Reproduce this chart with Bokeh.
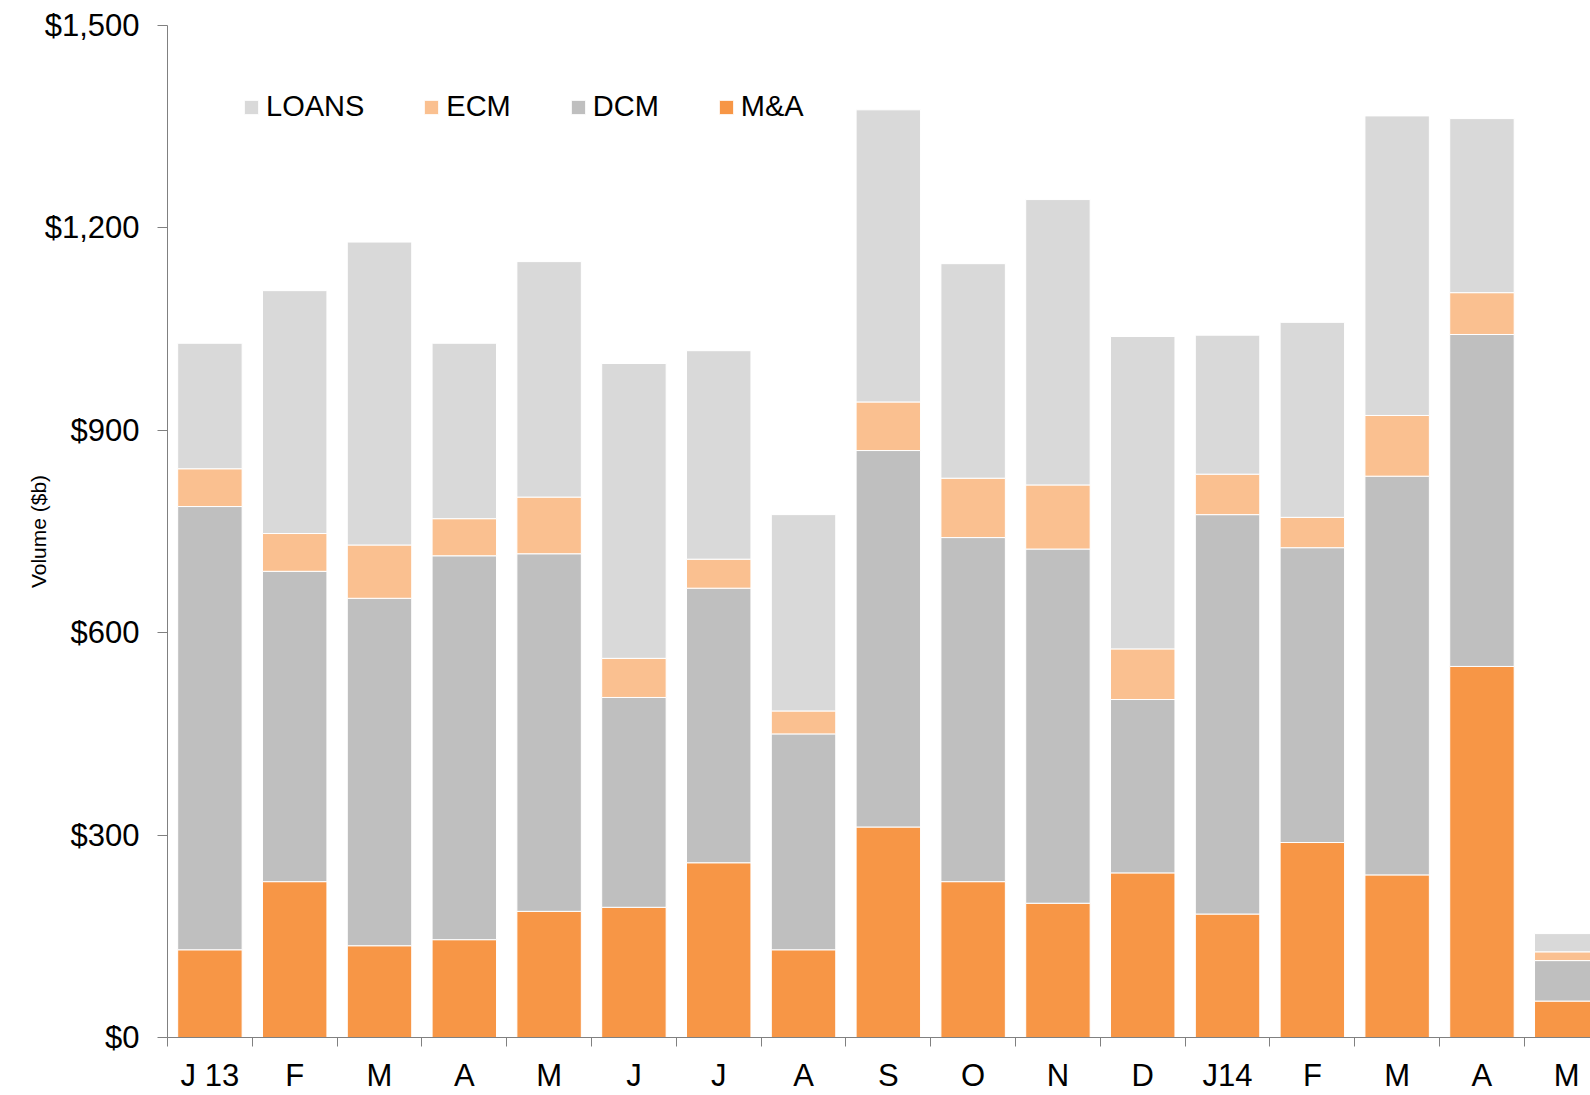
from bokeh.plotting import figure
from bokeh.models import (ColumnDataSource, Range1d, FixedTicker, NumeralTickFormatter,
                          Legend, LegendItem)
from bokeh.embed import file_html
from bokeh.resources import INLINE

months = ["J 13", "F", "M", "A", "M", "J", "J", "A", "S", "O", "N", "D",
          "J14", "F", "M", "A", "M"]
mna = [130, 231, 136, 145, 187, 193, 259, 130, 312, 231, 199, 244, 183, 289, 241, 550, 54]
dcm = [657, 460, 515, 569, 530, 311, 407, 320, 558, 510, 525, 257, 592, 437, 591, 492, 60]
ecm = [56, 56, 79, 55, 84, 58, 43, 34, 72, 88, 95, 75, 60, 45, 90, 62, 13]
loans = [186, 360, 449, 260, 349, 437, 309, 291, 433, 318, 423, 463, 206, 289, 444, 258, 27]
y_ticks = [0, 300, 600, 900, 1200, 1500]

FONT = "Liberation Sans"
n = len(months)
centers = [i + 0.5 for i in range(n)]
bounds = [float(i) for i in range(n + 1)]

src = ColumnDataSource(dict(x=centers, mna=mna, dcm=dcm, ecm=ecm, loans=loans))

p = figure(width=1590, height=1095, output_backend="svg", toolbar_location=None,
           x_range=Range1d(0, 16.78), y_range=Range1d(0, 1500),
           min_border_left=167, min_border_top=25, min_border_right=0,
           min_border_bottom=58)
p.outline_line_color = None
p.xgrid.visible = False
p.ygrid.visible = False
p.background_fill_color = "white"
p.border_fill_color = "white"

colors = ["#F79646", "#BFBFBF", "#FAC090", "#D9D9D9"]
rs = p.vbar_stack(["mna", "dcm", "ecm", "loans"], x="x", width=0.76, source=src,
                  color=colors, line_color="white", line_width=1)

# y axis
ya = p.yaxis[0]
ya.ticker = FixedTicker(ticks=y_ticks)
ya.formatter = NumeralTickFormatter(format="$0,0")
ya.axis_line_color = "#808080"
ya.major_tick_line_color = "#808080"
ya.major_tick_out = 10
ya.major_tick_in = 0
ya.minor_tick_line_color = None
ya.major_label_standoff = 18
ya.major_label_text_font = FONT
ya.major_label_text_font_size = "31px"
ya.major_label_text_color = "black"
ya.axis_label = "Volume ($b)"
ya.axis_label_text_font = FONT
ya.axis_label_text_font_size = "21px"
ya.axis_label_text_font_style = "normal"
ya.axis_label_text_color = "black"
ya.axis_label_standoff = -8

# x axis
xa = p.xaxis[0]
xa.ticker = FixedTicker(ticks=centers, minor_ticks=bounds)
xa.major_label_overrides = {c: m for c, m in zip(centers, months)}
xa.axis_line_color = "#808080"
xa.major_tick_line_color = None
xa.major_tick_out = 0
xa.major_tick_in = 0
xa.minor_tick_line_color = "#808080"
xa.minor_tick_out = 9
xa.minor_tick_in = 0
xa.major_label_standoff = 11
xa.major_label_text_font = FONT
xa.major_label_text_font_size = "31px"
xa.major_label_text_color = "black"

legend = Legend(items=[LegendItem(label="LOANS", renderers=[rs[3]]),
                       LegendItem(label="ECM", renderers=[rs[2]]),
                       LegendItem(label="DCM", renderers=[rs[1]]),
                       LegendItem(label="M&A", renderers=[rs[0]])],
                orientation="horizontal", location=(75, 914),
                glyph_width=18, glyph_height=18, label_standoff=6, spacing=58,
                padding=0, margin=0, border_line_color=None, background_fill_alpha=0,
                label_text_font=FONT, label_text_font_size="29px",
                label_text_color="black")
p.add_layout(legend)

open("out.html", "w").write(file_html(p, INLINE))
